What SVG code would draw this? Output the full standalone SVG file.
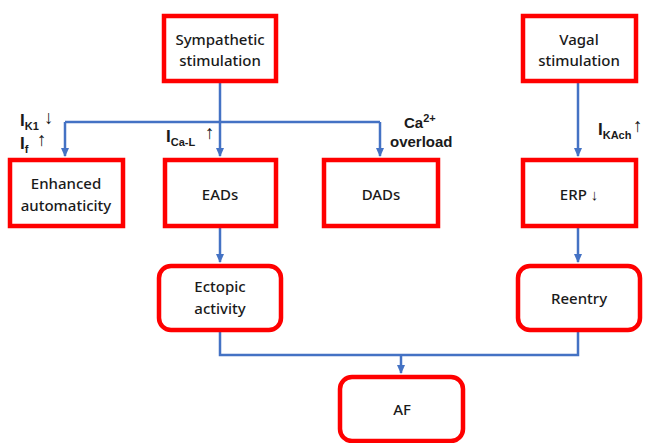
<svg xmlns="http://www.w3.org/2000/svg" width="646" height="443" viewBox="0 0 646 443">
<defs>
<style>
.box{fill:#fff;stroke:#ff0000;stroke-width:4.5}
.t{font-family:"Noto Sans","Open Sans",sans-serif;font-size:15px;fill:#1a1a1a;text-anchor:middle;font-weight:500}
.l{font-family:"Liberation Sans","Noto Sans",sans-serif;font-size:17px;fill:#1a1a1a;font-weight:700}
.s{font-size:11px}
.ar{font-family:"Liberation Sans","DejaVu Sans",sans-serif;font-weight:400;font-size:19px;fill:#1a1a1a}
.c{fill:none;stroke:#4472c4;stroke-width:2.5}
</style>
<marker id="a" markerWidth="10" markerHeight="8" refX="8" refY="4" orient="auto" markerUnits="userSpaceOnUse">
<path d="M0,0 L9,4 L0,8 Z" fill="#4472c4"/>
</marker>
</defs>
<rect width="646" height="443" fill="#fff"/>
<g id="connectors">
<path class="c" d="M220,83 V122"/>
<path class="c" d="M65,122 H380"/>
<path class="c" d="M65,122 V156" marker-end="url(#a)"/>
<path class="c" d="M220,122 V156" marker-end="url(#a)"/>
<path class="c" d="M380,122 V156" marker-end="url(#a)"/>
<path class="c" d="M578,83 V156" marker-end="url(#a)"/>
<path class="c" d="M220,228 V262" marker-end="url(#a)"/>
<path class="c" d="M578,228 V262" marker-end="url(#a)"/>
<path class="c" d="M220,332 V355 H578 V332"/>
<path class="c" d="M401,355 V373" marker-end="url(#a)"/>
</g>
<g id="sympathetic"><rect class="box" x="164" y="16" width="112" height="65"/><text class="t" x="220" y="45">Sympathetic</text><text class="t" x="220" y="66">stimulation</text></g>
<g id="vagal"><rect class="box" x="523" y="16" width="113" height="65"/><text class="t" x="579" y="45">Vagal</text><text class="t" x="579" y="66">stimulation</text></g>
<g id="enhanced"><rect class="box" x="10" y="160" width="113" height="66"/><text class="t" x="66" y="189">Enhanced</text><text class="t" x="66" y="211">automaticity</text></g>
<g id="eads"><rect class="box" x="165" y="160" width="111" height="66"/><text class="t" x="220" y="200">EADs</text></g>
<g id="dads"><rect class="box" x="324" y="160" width="114" height="66"/><text class="t" x="381" y="200">DADs</text></g>
<g id="erp"><rect class="box" x="523" y="160" width="113" height="66"/><text class="t" x="579" y="200">ERP ↓</text></g>
<g id="ectopic"><rect class="box" x="159" y="266" width="122" height="64" rx="12"/><text class="t" x="220" y="292">Ectopic</text><text class="t" x="220" y="314">activity</text></g>
<g id="reentry"><rect class="box" x="518" y="266" width="122" height="64" rx="12"/><text class="t" x="579" y="304">Reentry</text></g>
<g id="af"><rect class="box" x="340" y="377" width="123" height="64" rx="12"/><text class="t" x="402" y="415">AF</text></g>
<g id="labels">
<text class="l" x="20" y="126">I<tspan class="s" dy="4">K1</tspan></text>
<text class="ar" x="44" y="124">↓</text>
<text class="l" x="20" y="149">I<tspan class="s" dy="4">f</tspan></text>
<text class="ar" x="37" y="146">↑</text>
<text class="l" x="166" y="142">I<tspan class="s" dy="4">Ca-L</tspan></text>
<text class="ar" x="205" y="139">↑</text>
<text class="l" x="404" y="128" style="font-size:15px">Ca<tspan class="s" dy="-6">2+</tspan></text>
<text class="l" x="390" y="147" style="font-size:15px">overload</text>
<text class="l" x="598" y="135">I<tspan class="s" dy="4">KAch</tspan></text>
<text class="ar" x="633" y="132">↑</text>
</g>
</svg>
